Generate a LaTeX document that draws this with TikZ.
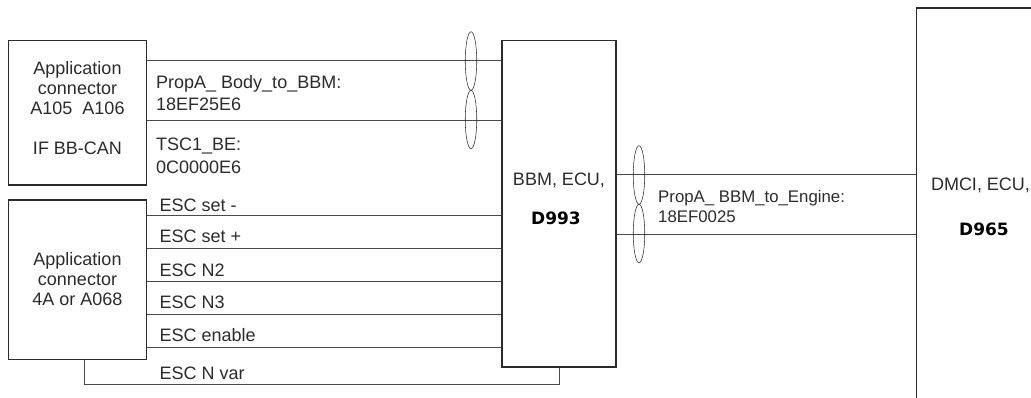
\documentclass[tikz,border=0pt]{standalone}
\usepackage{fontspec}
\setmainfont{Liberation Sans}
\newfontfamily\heavyfont{DejaVu Sans}
\usepackage{xcolor}
\usetikzlibrary{shapes.geometric, positioning}
\definecolor{inkgray}{HTML}{2B2B2B}
\definecolor{wiregray}{HTML}{4A4A4A}

\begin{document}
\begin{tikzpicture}[
        x=1pt, y=-1pt,
        unit/.style={rectangle, draw=inkgray, line width=1.3pt, inner sep=0pt},
        wire/.style={draw=wiregray, line width=0.9pt},
        twist/.style={ellipse, draw=inkgray, line width=0.55pt, minimum width=11.5pt, minimum height=58.5pt, inner sep=0pt},
        unittext/.style={align=center, inner sep=0pt, text=inkgray, font=\fontsize{18}{20}\selectfont},
        sigtext/.style={align=left, anchor=base west, inner sep=0pt, text=inkgray, font=\fontsize{18}{22.5}\selectfont},
        smalltext/.style={align=left, anchor=base west, inner sep=0pt, text=inkgray, font=\fontsize{16.8}{20}\selectfont},
        idtext/.style={inner sep=0pt, text=black, font=\heavyfont\bfseries\fontsize{17}{20}\selectfont}
    ]
    \useasboundingbox (0,0) rectangle (1031,397);

    \node[unit, minimum width=138pt, minimum height=144.3pt] (bbcan) at (77.7,112.9) {};
    \node[unit, minimum width=138pt, minimum height=159.7pt] (esc) at (77.7,279.9) {};
    \node[unit, minimum width=114pt, minimum height=326.3pt] (bbm) at (559,203.9) {};
    \node[unit, minimum width=160pt, minimum height=440pt] (dmci) at (996.7,228) {};

    \node[unittext] (bbcantext) at (77.5,108.5) {Application\\connector\\A105\ \ A106\\[20pt]IF BB-CAN};
    \node[unittext] (esctext) at (77.5,279) {Application\\connector\\4A or A068};
    \node[unittext] (bbmtext) at (559,180) {BBM, ECU,};
    \node[idtext] (bbmid) at (556,218.7) {D993};
    \node[unittext] (dmcitext) at (980.5,185) {DMCI, ECU,};
    \node[idtext] (dmciid) at (984,229) {D965};

    % CAN pairs
    \draw[wire] (bbcan.east |- 0,60.7) -- (bbm.west |- 0,60.7);
    \draw[wire] (bbcan.east |- 0,120) -- (bbm.west |- 0,120);
    \draw[wire] (bbm.east |- 0,174) -- (dmci.west |- 0,174);
    \draw[wire] (bbm.east |- 0,234) -- (dmci.west |- 0,234);

    \node[twist] (twa) at (471,61) {};
    \node[twist] (twb) at (471,119.5) {};
    \node[twist] (twc) at (639,175) {};
    \node[twist] (twd) at (639,233.5) {};

    % Discrete wires
    \draw[wire] (esc.east |- 0,215) -- (bbm.west |- 0,215);
    \draw[wire] (esc.east |- 0,248) -- (bbm.west |- 0,248);
    \draw[wire] (esc.east |- 0,281) -- (bbm.west |- 0,281);
    \draw[wire] (esc.east |- 0,314) -- (bbm.west |- 0,314);
    \draw[wire] (esc.east |- 0,347) -- (bbm.west |- 0,347);
    \coordinate (varl) at (84.7,384.7);
    \draw[wire] (esc.south -| varl) -- (varl) -| (bbm.south);

    % Signal labels
    \node[sigtext] (propa) at (156,110.7) {PropA\_ Body\_to\_BBM:\\18EF25E6};
    \node[sigtext] (tsc) at (156,173) {TSC1\_BE:\\0C0000E6};
    \node[smalltext] (propb) at (658,222) {PropA\_ BBM\_to\_Engine:\\18EF0025};
    \node[sigtext] (setm) at (159.5,211) {ESC set -};
    \node[sigtext] (setp) at (159.5,242.7) {ESC set +};
    \node[sigtext] (ntwo) at (159.5,276) {ESC N2};
    \node[sigtext] (nthree) at (159.5,308.7) {ESC N3};
    \node[sigtext] (enable) at (159.5,341) {ESC enable};
    \node[sigtext] (nvar) at (159.5,379.7) {ESC N var};
\end{tikzpicture}
\end{document}
